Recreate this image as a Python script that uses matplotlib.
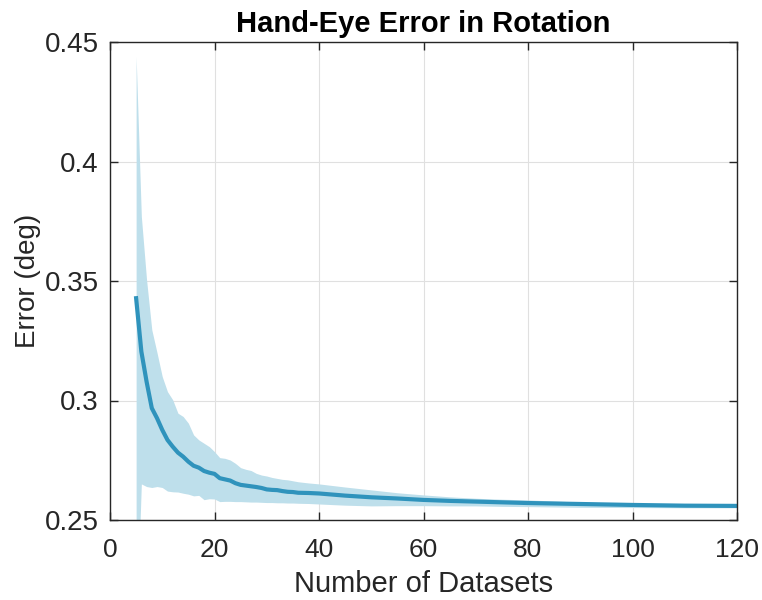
import matplotlib
matplotlib.use("Agg")
import matplotlib.pyplot as plt

# Data
n_datasets = [5, 6, 7, 8, 9, 10, 11, 12, 13, 14, 15, 16, 17, 18, 19, 20,
              21, 22, 23, 24, 25, 26, 27, 28, 29, 30, 31, 32, 33, 34, 35, 36,
              38, 40, 45, 50, 55, 60, 65, 70, 75, 80, 90, 100, 110, 120]
mean_err = [0.3428, 0.3205, 0.3079, 0.2968, 0.2926, 0.2877, 0.2835, 0.2807,
            0.2782, 0.2765, 0.2744, 0.2727, 0.2719, 0.2705, 0.2698, 0.2693,
            0.2675, 0.2670, 0.2665, 0.2654, 0.2647, 0.2644, 0.2641, 0.2638,
            0.2634, 0.2628, 0.2626, 0.2625, 0.2621, 0.2618, 0.2617, 0.2614,
            0.2613, 0.2611, 0.2602, 0.2595, 0.2590, 0.2584, 0.2580, 0.2577,
            0.2574, 0.2571, 0.2567, 0.2563, 0.2560, 0.2559]
upper_err = [0.4440, 0.3770, 0.3505, 0.3296, 0.3200, 0.3100, 0.3037, 0.3003,
             0.2947, 0.2933, 0.2905, 0.2856, 0.2835, 0.2821, 0.2807, 0.2786,
             0.2761, 0.2758, 0.2751, 0.2737, 0.2719, 0.2712, 0.2707, 0.2695,
             0.2688, 0.2684, 0.2678, 0.2674, 0.2670, 0.2668, 0.2664, 0.2660,
             0.2655, 0.2651, 0.2638, 0.2626, 0.2614, 0.2605, 0.2597, 0.2591,
             0.2587, 0.2584, 0.2575, 0.2570, 0.2566, 0.2565]
lower_err = [0.2000, 0.2651, 0.2640, 0.2636, 0.2640, 0.2636, 0.2621, 0.2618,
             0.2617, 0.2612, 0.2608, 0.2601, 0.2603, 0.2585, 0.2589, 0.2588,
             0.2577, 0.2578, 0.2578, 0.2577, 0.2577, 0.2576, 0.2575, 0.2575,
             0.2574, 0.2573, 0.2573, 0.2572, 0.2572, 0.2571, 0.2571, 0.2570,
             0.2569, 0.2567, 0.2562, 0.2559, 0.2560, 0.2560, 0.2559, 0.2559,
             0.2557, 0.2556, 0.2553, 0.2552, 0.2551, 0.2551]
x_ticks = [0, 20, 40, 60, 80, 100, 120]
y_ticks = [0.25, 0.3, 0.35, 0.4, 0.45]
y_tick_labels = ["0.25", "0.3", "0.35", "0.4", "0.45"]

plt.rcParams["font.family"] = ["Liberation Sans", "DejaVu Sans"]
fig = plt.figure(figsize=(7.62, 6.0), dpi=100)
ax = fig.add_axes([110 / 762, 80 / 600, 627 / 762, 478 / 600])

ax.fill_between(n_datasets, lower_err, upper_err, color="#BEDFEB", linewidth=0)
ax.plot(n_datasets, mean_err, color="#2F93BC", linewidth=3)

ax.set_xlim(0, 120)
ax.set_ylim(0.25, 0.45)
ax.set_xticks(x_ticks)
ax.set_xticklabels([str(t) for t in x_ticks], fontsize=19)
ax.set_yticks(y_ticks)
ax.set_yticklabels(y_tick_labels, fontsize=20)
ax.grid(True, color="#E0E0E0", linewidth=0.8)
ax.set_axisbelow(True)
ax.tick_params(direction="in", length=6, width=1, colors="#262626",
               top=True, right=True, labelcolor="#262626")
ax.tick_params(axis="x", pad=13)
ax.tick_params(axis="y", pad=8)
for s in ax.spines.values():
    s.set_color("#262626")
    s.set_linewidth(1)

ax.set_xlabel("Number of Datasets", fontsize=21, color="#262626", labelpad=6)
ax.set_ylabel("Error (deg)", fontsize=20, color="#262626", labelpad=3)
ax.set_title("Hand-Eye Error in Rotation", fontsize=21, fontweight="bold",
             pad=7)

fig.savefig("out.png", dpi=100)
